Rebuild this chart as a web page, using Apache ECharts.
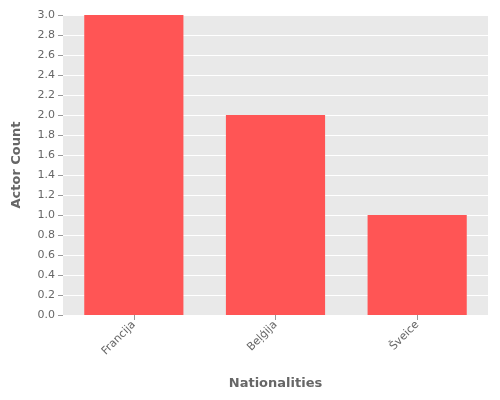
<!DOCTYPE html>
<html><head><meta charset="utf-8">
<script src="https://cdn.jsdelivr.net/npm/echarts@6/dist/echarts.min.js"></script>
<style>html,body{margin:0;padding:0;background:#fff}#c{width:500px;height:400px}</style>
</head><body><div id="c"></div>
<script>
const categories = ["Francija", "Beļģija", "Šveice"];
const values = [3, 2, 1];
const chart = echarts.init(document.getElementById('c'));
chart.setOption({
  animation: false,
  textStyle: {fontFamily: 'DejaVu Sans'},
  grid: {left: 63, right: 12, top: 15, bottom: 85, show: true, backgroundColor: '#e9e9e9', borderWidth: 0},
  xAxis: {
    type: 'category', data: categories,
    name: 'Nationalities', nameLocation: 'middle', nameGap: 62,
    nameTextStyle: {color: '#666', fontSize: 13, fontWeight: 'bold'},
    axisLine: {show: false}, axisTick: {show: true, alignWithLabel: true, lineStyle: {color: '#999'}},
    axisLabel: {rotate: 45, color: '#666', fontSize: 11}
  },
  yAxis: {
    type: 'value', min: 0, max: 3, interval: 0.2,
    name: 'Actor Count', nameLocation: 'middle', nameGap: 40,
    nameTextStyle: {color: '#666', fontSize: 13, fontWeight: 'bold'},
    axisLine: {show: false}, axisTick: {show: true, lineStyle: {color: '#999'}},
    axisLabel: {color: '#666', fontSize: 11, formatter: v => v.toFixed(1)},
    splitLine: {lineStyle: {color: '#fff', width: 1}}
  },
  series: [{type: 'bar', data: values, barWidth: '70%', itemStyle: {color: '#ff5555'}}]
});
</script></body></html>
